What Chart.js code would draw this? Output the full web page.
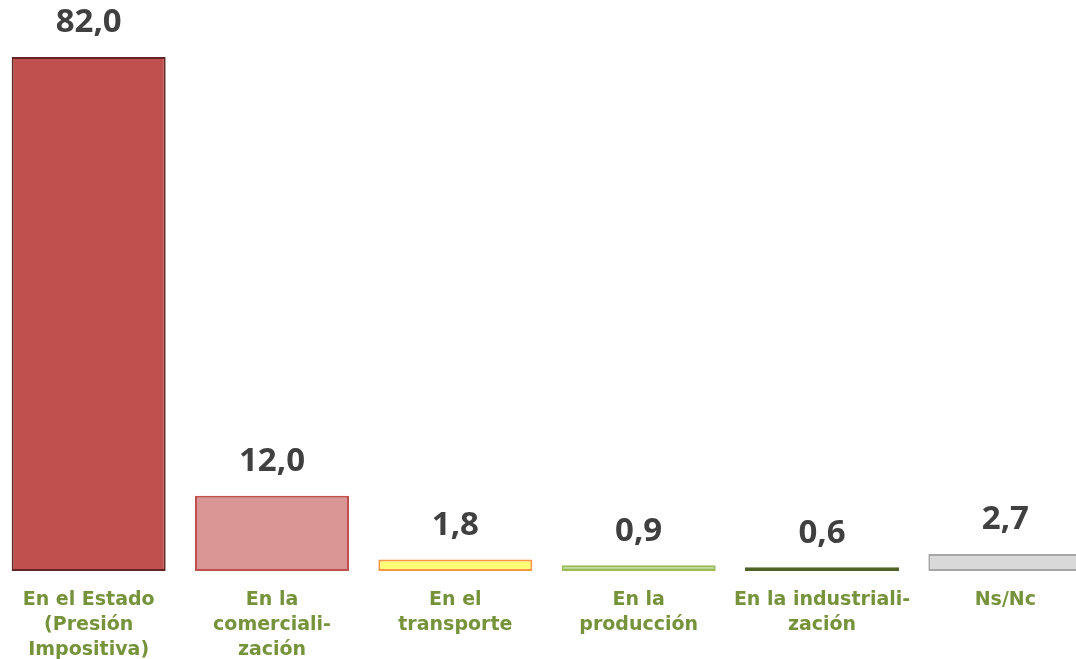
<!DOCTYPE html>
<html>
<head>
<meta charset="utf-8">
<script src="https://cdn.jsdelivr.net/npm/chart.js@4"></script>
<style>
  html, body { margin: 0; padding: 0; background: #fff; overflow: hidden; }
  #wrap { position: relative; left: -3px; width: 1100px; height: 679px; }
</style>
</head>
<body>
<div id="wrap"><canvas id="barChart"></canvas></div>
<script>
const categories = [
    ["En el Estado", "(Presión", "Impositiva)"],
    ["En la", "comerciali-", "zación"],
    ["En el", "transporte"],
    ["En la", "producción"],
    ["En la industriali-", "zación"],
    ["Ns/Nc"]
];
const values = [82.0, 12.0, 1.8, 0.9, 0.6, 2.7];
const fillColors = ['#C0504D', '#D99694', '#FFFF75', '#B9D28C', '#76933C', '#D9D9D9'];
const edgeColors = ['#632523', '#C0504D', '#F79646', '#9BBB59', '#4F6228', '#A6A6A6'];

// value labels above each bar, decimal comma
const valueLabels = {
    id: 'valueLabels',
    afterDatasetsDraw(chart) {
        const c = chart.ctx;
        const meta = chart.getDatasetMeta(0);
        c.save();
        c.font = 'bold 33px "Open Sans"';
        c.fillStyle = '#404040';
        c.textAlign = 'center';
        c.textBaseline = 'middle';
        meta.data.forEach((bar, idx) => {
            const txt = values[idx].toFixed(1).replace('.', ',');
            c.fillText(txt, bar.x, bar.y - 34);
        });
        c.restore();
    }
};

const ctx = document.getElementById('barChart');
new Chart(ctx, {
    type: 'bar',
    data: {
        labels: categories,
        datasets: [{
            data: values,
            backgroundColor: fillColors,
            borderColor: edgeColors,
            borderWidth: 2,
            borderSkipped: false,
            barPercentage: 0.84,
            categoryPercentage: 1
        }]
    },
    options: {
        responsive: true,
        maintainAspectRatio: false,
        animation: false,
        layout: { padding: 0 },
        plugins: {
            legend: { display: false },
            tooltip: { enabled: false }
        },
        scales: {
            x: {
                grid: { display: false, drawTicks: false },
                border: { display: false },
                ticks: {
                    color: '#76933C',
                    font: { family: 'DejaVu Sans', weight: 'bold', size: 19, lineHeight: 1.3 },
                    padding: 17,
                    maxRotation: 0,
                    autoSkip: false
                }
            },
            y: {
                display: false,
                min: 0,
                max: 91.1
            }
        }
    },
    plugins: [valueLabels]
});
</script>
</body>
</html>
